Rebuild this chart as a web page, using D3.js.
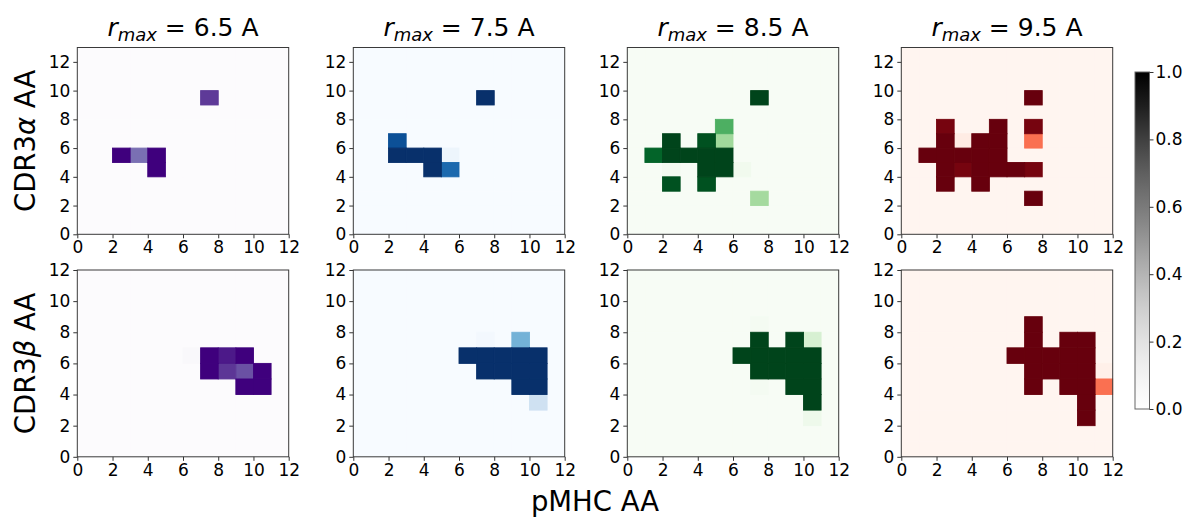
<!DOCTYPE html>
<html>
<head>
<meta charset="utf-8">
<script src="https://cdn.jsdelivr.net/npm/d3@7"></script>
<style>
  body { margin: 0; background: #fff; }
  text { font-family: "DejaVu Sans", sans-serif; fill: #000; }
</style>
</head>
<body>
<svg id="fig" width="1185" height="518"></svg>
<script>
// Contact radii (columns) and TCR chains (rows)
const radii = ["6.5", "7.5", "8.5", "9.5"];
const chains = ["α", "β"];
const chainRows = [13, 12];          // CDR3 residues per chain
const pmhcCols = 12;                 // pMHC residues
const axisTicks = [0, 2, 4, 6, 8, 10, 12];
const cbTicks = [0, 0.2, 0.4, 0.6, 0.8, 1.0];

// Non-zero contact frequencies: [pMHC index, CDR3 index, value]; every other cell is 0
const alpha65 = [[7, 9, 0.82], [2, 5, 1.0], [3, 5, 0.66], [4, 5, 1.0], [4, 4, 1.0]];
const alpha75 = [[7, 9, 1.0], [2, 6, 0.88], [2, 5, 1.0], [3, 5, 1.0], [4, 5, 1.0],
                 [5, 5, 0.05], [4, 4, 1.0], [5, 4, 0.78]];
const alpha85 = [[7, 9, 1.0], [5, 7, 0.6], [2, 6, 1.0], [4, 6, 0.96], [5, 6, 0.37],
                 [1, 5, 0.9], [2, 5, 1.0], [3, 5, 1.0], [4, 5, 1.0], [5, 5, 1.0],
                 [2, 4, 0.03], [4, 4, 1.0], [5, 4, 1.0], [6, 4, 0.04],
                 [2, 3, 0.96], [4, 3, 0.96], [7, 2, 0.36]];
const alpha95 = [[7, 9, 1.0], [2, 7, 0.97], [5, 7, 1.0], [7, 7, 0.97],
                 [2, 6, 1.0], [3, 6, 0.05], [4, 6, 1.0], [5, 6, 1.0], [7, 6, 0.48],
                 [1, 5, 1.0], [2, 5, 1.0], [3, 5, 1.0], [4, 5, 1.0], [5, 5, 1.0],
                 [2, 4, 1.0], [3, 4, 0.97], [4, 4, 1.0], [5, 4, 1.0], [6, 4, 1.0], [7, 4, 0.97],
                 [2, 3, 1.0], [4, 3, 1.0], [7, 2, 1.0]];
const beta65 = [[6, 6, 0.03], [7, 6, 1.0], [8, 6, 0.92], [9, 6, 1.0],
                [7, 5, 1.0], [8, 5, 0.83], [9, 5, 0.75], [10, 5, 1.0],
                [9, 4, 1.0], [10, 4, 1.0]];
const beta75 = [[7, 7, 0.02], [9, 7, 0.48],
                [6, 6, 1.0], [7, 6, 1.0], [8, 6, 1.0], [9, 6, 1.0], [10, 6, 1.0],
                [7, 5, 1.0], [8, 5, 1.0], [9, 5, 1.0], [10, 5, 1.0],
                [9, 4, 1.0], [10, 4, 1.0], [10, 3, 0.2]];
const beta85 = [[7, 8, 0.02], [7, 7, 1.0], [9, 7, 1.0], [10, 7, 0.18],
                [6, 6, 1.0], [7, 6, 1.0], [8, 6, 1.0], [9, 6, 1.0], [10, 6, 1.0],
                [7, 5, 1.0], [8, 5, 1.0], [9, 5, 1.0], [10, 5, 1.0],
                [7, 4, 0.02], [9, 4, 1.0], [10, 4, 1.0], [10, 3, 1.0], [10, 2, 0.06]];
const beta95 = [[7, 8, 1.0], [7, 7, 1.0], [9, 7, 1.0], [10, 7, 1.0],
                [6, 6, 1.0], [7, 6, 1.0], [8, 6, 1.0], [9, 6, 1.0], [10, 6, 1.0],
                [7, 5, 1.0], [8, 5, 1.0], [9, 5, 1.0], [10, 5, 1.0], [11, 5, 0.03],
                [7, 4, 1.0], [9, 4, 1.0], [10, 4, 1.0], [11, 4, 0.48],
                [10, 3, 1.0], [10, 2, 1.0]];

const panelCells = [[alpha65, alpha75, alpha85, alpha95],
                    [beta65, beta75, beta85, beta95]];
const colourMaps = [d3.interpolatePurples, d3.interpolateBlues,
                    d3.interpolateGreens, d3.interpolateReds];

// Layout
const panelLeft = [77.3, 353.3, 627.3, 901.3];
const panelW = 211.4;
const panelTop = [47.5, 270];
const panelH = 186.8;
const tickFont = 17;

const svg = d3.select("#fig");

function fullGrid(cells, nRows) {
  const grid = [];
  for (let r = 0; r < nRows; r++)
    for (let c = 0; c < pmhcCols; c++) grid.push({ c, r, v: 0 });
  cells.forEach(([c, r, v]) => { grid[r * pmhcCols + c].v = v; });
  return grid;
}

panelCells.forEach((rowSet, ri) => {
  rowSet.forEach((cells, ci) => {
    const nRows = chainRows[ri];
    const x = d3.scaleLinear().domain([0, pmhcCols]).range([0, panelW]);
    const y = d3.scaleLinear().domain([0, nRows]).range([panelH, 0]);
    const cmap = colourMaps[ci];
    const g = svg.append("g")
      .attr("transform", `translate(${panelLeft[ci]},${panelTop[ri]})`);

    // Background cells first, then the coloured ones so their edges stay on top
    const grid = fullGrid(cells, nRows).sort((a, b) => a.v - b.v);
    g.selectAll("rect.cell").data(grid).join("rect")
      .attr("class", "cell")
      .attr("x", d => x(d.c))
      .attr("y", d => y(d.r + 1))
      .attr("width", d => x(d.c + 1) - x(d.c))
      .attr("height", d => y(d.r) - y(d.r + 1))
      .attr("fill", d => cmap(d.v))
      .attr("stroke", d => cmap(d.v))
      .attr("stroke-width", 0.9);

    const xa = g.append("g").attr("transform", `translate(0,${panelH})`)
      .call(d3.axisBottom(x).tickValues(axisTicks).tickSize(4).tickPadding(3));
    const ya = g.append("g")
      .call(d3.axisLeft(y).tickValues(axisTicks).tickSize(4).tickPadding(3));
    [xa, ya].forEach(a => {
      a.select(".domain").remove();
      a.selectAll("line").attr("stroke", "#333");
      a.selectAll("text").attr("font-size", tickFont).attr("font-family", "DejaVu Sans");
    });

    g.append("rect").attr("width", panelW).attr("height", panelH)
      .attr("fill", "none").attr("stroke", "#3a3a3a").attr("stroke-width", 1);

    if (ri === 0) {
      const t = svg.append("text")
        .attr("x", panelLeft[ci] + panelW / 2).attr("y", 36)
        .attr("text-anchor", "middle").attr("font-size", 25);
      t.append("tspan").attr("font-style", "italic").text("r");
      t.append("tspan").attr("font-style", "italic").attr("font-size", 18)
        .attr("dy", 5).text("max");
      t.append("tspan").attr("dy", -5).text(` = ${radii[ci]} A`);
    }
  });

  // Row label
  const lbl = svg.append("text")
    .attr("transform", `translate(35,${panelTop[ri] + panelH / 2}) rotate(-90)`)
    .attr("text-anchor", "middle").attr("font-size", 27.5);
  lbl.append("tspan").text("CDR3");
  lbl.append("tspan").attr("font-style", "italic").text(chains[ri]);
  lbl.append("tspan").text(" AA");
});

// Shared x label
svg.append("text")
  .attr("x", panelLeft[0] + (panelLeft[3] + panelW - panelLeft[0]) / 2)
  .attr("y", 511).attr("text-anchor", "middle").attr("font-size", 27.5)
  .text("pMHC AA");

// Colour bar
const cbX = 1135, cbY = 72, cbW = 14.5, cbH = 337;
const defs = svg.append("defs");
const grad = defs.append("linearGradient").attr("id", "greys")
  .attr("x1", 0).attr("y1", 1).attr("x2", 0).attr("y2", 0);
d3.range(0, 1.0001, 0.05).forEach(s => {
  grad.append("stop").attr("offset", s).attr("stop-color", d3.interpolateGreys(s));
});
svg.append("rect").attr("x", cbX).attr("y", cbY).attr("width", cbW).attr("height", cbH)
  .attr("fill", "url(#greys)").attr("stroke", "#666").attr("stroke-width", 1);
const cbScale = d3.scaleLinear().domain([0, 1]).range([cbY + cbH, cbY]);
const cbAxis = svg.append("g").attr("transform", `translate(${cbX + cbW},0)`)
  .call(d3.axisRight(cbScale).tickValues(cbTicks).tickFormat(d3.format(".1f"))
    .tickSize(4).tickPadding(2));
cbAxis.select(".domain").remove();
cbAxis.selectAll("line").attr("stroke", "#333");
cbAxis.selectAll("text").attr("font-size", tickFont).attr("font-family", "DejaVu Sans");
</script>
</body>
</html>
